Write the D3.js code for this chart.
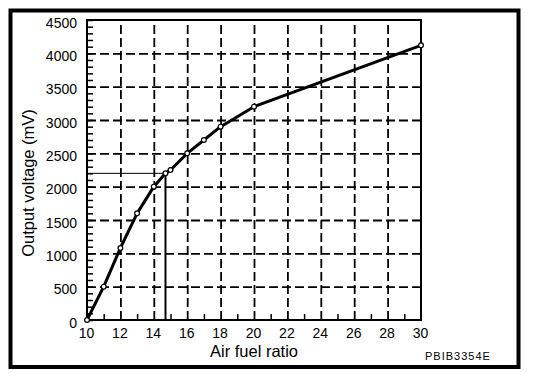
<!DOCTYPE html>
<html>
<head>
<meta charset="utf-8">
<script src="https://d3js.org/d3.v7.min.js"></script>
<style>
    body{margin:0;background:#fff;}
    svg{display:block;}
    .tick text{font-family:"Liberation Sans",Arial,sans-serif;font-size:14px;fill:#000;}
    .grid .tick line{stroke:#000;stroke-width:1.8;stroke-dasharray:9,4;}
    .grid .domain{display:none;}
    .labels .domain{display:none;}
    .labels .tick line{display:none;}
    .minor .domain{display:none;}
    .minor .tick line{stroke:#000;stroke-width:1.5;}
    .minor .tick text{display:none;}
</style>
</head>
<body>
<div id="chart"></div>
<script>
// air fuel ratio / output voltage (mV)
var afr=[10,11,12,13,14,14.7,15,16,17,18,20,30];
var mv=[0,500,1080,1600,2000,2200,2250,2500,2700,2900,3200,4120];
var x_ticks=[10,12,14,16,18,20,22,24,26,28,30];
var x_minor=[11,13,15,17,19,21,23,25,27,29];
var y_ticks=[0,500,1000,1500,2000,2500,3000,3500,4000,4500];
var y_minor=d3.range(0,4501,100);
var stoich=[14.7,2200];

var width=544,
    height=382,
    margin={left:87,top:20,right:123,bottom:62},
    w=width-margin.left-margin.right,
    h=height-margin.top-margin.bottom;

var data=afr.map(function(d,i){return {x:d,y:mv[i]};});

var svg=d3.select('#chart').append('svg')
    .attr('width',width)
    .attr('height',height);

// outer frame
svg.append('rect')
    .attr('x',10.5).attr('y',10.5)
    .attr('width',508).attr('height',356.5)
    .attr('fill','none').attr('stroke','#000').attr('stroke-width',4);

var chart=svg.append('g')
    .attr('transform','translate('+margin.left+','+margin.top+')');

var scale_x=d3.scaleLinear().domain([10,30]).range([0,w]);
var scale_y=d3.scaleLinear().domain([0,4500]).range([h,0]);

// dashed grid
chart.append('g').attr('class','grid')
    .attr('transform','translate(0,'+h+')')
    .call(d3.axisBottom(scale_x).tickValues(x_ticks.slice(1,-1)).tickSize(-h).tickFormat(''));
chart.append('g').attr('class','grid')
    .call(d3.axisLeft(scale_y).tickValues(y_ticks.slice(1,-1)).tickSize(-w).tickFormat(''));

// minor ticks inside
chart.append('g').attr('class','minor')
    .attr('transform','translate(0,'+h+')')
    .call(d3.axisBottom(scale_x).tickValues(x_minor).tickSize(-6));
chart.append('g').attr('class','minor')
    .call(d3.axisLeft(scale_y).tickValues(y_minor).tickSize(-6));

// tick labels
chart.append('g').attr('class','labels')
    .attr('transform','translate(0,'+h+')')
    .call(d3.axisBottom(scale_x).tickValues(x_ticks).tickFormat(d3.format('d')).tickSize(0).tickPadding(8))
    .selectAll('text').attr('dy','0.71em').attr('dx','-1');
chart.append('g').attr('class','labels')
    .call(d3.axisLeft(scale_y).tickValues(y_ticks).tickFormat(d3.format('d')).tickSize(0).tickPadding(10))
    .selectAll('text').attr('dy','0.52em');

// plot frame
chart.append('rect')
    .attr('width',w).attr('height',h)
    .attr('fill','none').attr('stroke','#000').attr('stroke-width',2);

// stoichiometric reference lines
chart.append('line')
    .attr('x1',0).attr('x2',scale_x(stoich[0]))
    .attr('y1',scale_y(stoich[1])).attr('y2',scale_y(stoich[1]))
    .attr('stroke','#000').attr('stroke-width',1);
chart.append('line')
    .attr('x1',scale_x(stoich[0])).attr('x2',scale_x(stoich[0]))
    .attr('y1',scale_y(stoich[1])).attr('y2',h)
    .attr('stroke','#000').attr('stroke-width',2);

// curve
var line_generator=d3.line()
    .x(function(d){return scale_x(d.x);})
    .y(function(d){return scale_y(d.y);});
chart.append('path')
    .attr('d',line_generator(data))
    .attr('fill','none').attr('stroke','#000').attr('stroke-width',3)
    .attr('stroke-linejoin','round');

chart.selectAll('.pt').data(data).enter()
    .append('circle').attr('class','pt')
    .attr('cx',function(d){return scale_x(d.x);})
    .attr('cy',function(d){return scale_y(d.y);})
    .attr('r',2.4)
    .attr('fill','#fff').attr('stroke','#000').attr('stroke-width',1.2);

// axis titles
svg.append('text')
    .text('Air fuel ratio')
    .attr('x',margin.left+w/2).attr('y',356.5)
    .attr('text-anchor','middle')
    .style('font-family','"Liberation Sans",Arial,sans-serif')
    .style('font-size','16.5px');

svg.append('text')
    .text('Output voltage (mV)')
    .attr('transform','translate(34,183) rotate(-90)')
    .attr('text-anchor','middle')
    .style('font-family','"Liberation Sans",Arial,sans-serif')
    .style('font-size','16.5px');

svg.append('text')
    .text('PBIB3354E')
    .attr('x',425).attr('y',360)
    .style('font-family','"Liberation Sans",Arial,sans-serif')
    .style('font-size','11px')
    .style('letter-spacing','1px');
</script>
</body>
</html>
